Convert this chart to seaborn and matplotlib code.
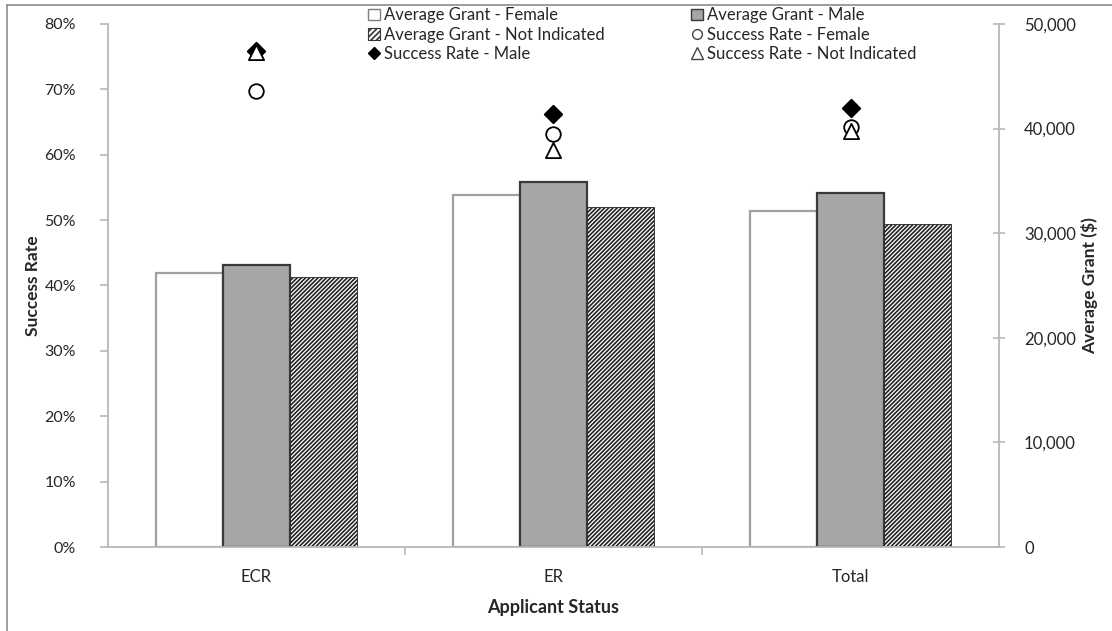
import numpy as np
import pandas as pd
import matplotlib
matplotlib.use("Agg")
import matplotlib.pyplot as plt
from matplotlib.ticker import PercentFormatter, FuncFormatter, FixedLocator
from matplotlib.patches import Patch
from matplotlib.lines import Line2D
import seaborn as sns

# Applicant status categories
categories = ["ECR", "ER", "Total"]

# Average grant ($) by gender
grant_female = [26200, 33650, 32100]
grant_male = [27000, 34900, 33850]
grant_not_indicated = [25800, 32500, 30900]

# Success rate by gender
rate_female = [0.698, 0.631, 0.642]
rate_male = [0.758, 0.662, 0.671]
rate_not_indicated = [0.757, 0.607, 0.636]

genders = ["Female", "Male", "Not Indicated"]

sns.set_theme(style="white")
plt.rcParams["font.family"] = ["Lato", "DejaVu Sans"]
plt.rcParams["hatch.linewidth"] = 1.2

fig = plt.figure(figsize=(11.12, 6.31), dpi=100)
ax = fig.add_axes([0.0971, 0.1331, 0.8013, 0.8289])
ax2 = ax.twinx()

grant_df = pd.DataFrame({
    "status": categories * 3,
    "gender": np.repeat(genders, len(categories)),
    "grant": grant_female + grant_male + grant_not_indicated,
})

sns.barplot(data=grant_df, x="status", y="grant", hue="gender",
            hue_order=genders, order=categories, width=0.675, gap=0,
            palette=["white", "#a6a6a6", "white"], legend=False,
            errorbar=None, ax=ax2)

bar_styles = [
    dict(facecolor="white", edgecolor="#a0a0a0", linewidth=1.6, hatch=None),
    dict(facecolor="#a6a6a6", edgecolor="#3a3a3a", linewidth=1.6, hatch=None),
    dict(facecolor="white", edgecolor="#222222", linewidth=0.6, hatch="////////"),
]
for container, style in zip(ax2.containers, bar_styles):
    for bar in container:
        bar.set_facecolor(style["facecolor"])
        bar.set_edgecolor(style["edgecolor"])
        bar.set_linewidth(style["linewidth"])
        if style["hatch"]:
            bar.set_hatch(style["hatch"])

# Success-rate markers at each category centre
pos = np.arange(len(categories))
marker_styles = [
    (rate_female, "o", "white", 110),
    (rate_male, "D", "black", 80),
    (rate_not_indicated, "^", "white", 120),
]
for values, mk, fc, size in marker_styles:
    sns.scatterplot(x=pos, y=values, marker=mk, s=size, color=fc,
                    edgecolor="black", linewidth=1.3, ax=ax, zorder=5,
                    legend=False)

ax.set_zorder(ax2.get_zorder() + 1)
ax.patch.set_visible(False)

ax.set_xlim(-0.5, len(categories) - 0.5)
ax.set_ylim(0, 0.8)
ax2.set_ylim(0, 50000)

ax.yaxis.set_major_locator(FixedLocator(np.arange(0, 0.81, 0.1)))
ax.yaxis.set_major_formatter(PercentFormatter(1.0, decimals=0))
ax2.yaxis.set_major_locator(FixedLocator(np.arange(0, 50001, 10000)))
ax2.yaxis.set_major_formatter(FuncFormatter(lambda v, p: f"{v:,.0f}"))

ax.set_xticks(pos)
ax.set_xticklabels(categories)
ax.set_xticks(np.arange(0.5, len(categories) - 0.5, 1.0), minor=True)

spine_color = "#b8b8b8"
for a in (ax, ax2):
    a.spines["top"].set_visible(False)
    for side in ("left", "right", "bottom"):
        a.spines[side].set_color(spine_color)
        a.spines[side].set_linewidth(1.3)
ax2.spines["left"].set_visible(False)
ax2.spines["bottom"].set_visible(False)
ax.spines["right"].set_visible(False)

text_color = "#262626"
ax.tick_params(axis="y", which="major", direction="out", length=6, width=1.2,
               color=spine_color, labelsize=11.5, labelcolor=text_color, pad=17,
               left=True)
ax2.tick_params(axis="y", which="major", direction="inout", length=8, width=1.2,
                color=spine_color, labelsize=12, labelcolor=text_color, pad=14,
                right=True)
ax.tick_params(axis="x", which="major", length=0, labelsize=12,
               labelcolor=text_color, pad=16)
ax.tick_params(axis="x", which="minor", direction="out", length=6, width=1.2,
               color=spine_color, bottom=True)

ax.set_xlabel("Applicant Status", fontsize=13, fontweight="bold",
              color=text_color, labelpad=10)
ax.set_ylabel("Success Rate", fontsize=12.5, fontweight="bold",
              color=text_color)
ax.yaxis.set_label_coords(-0.075, 0.5)
ax2.set_ylabel("Average Grant ($)", fontsize=12.5, fontweight="bold",
               color=text_color)
ax2.yaxis.set_label_coords(1.092, 0.5)
ax2.set_xlabel("")

handles = [
    Patch(facecolor="white", edgecolor="#7f7f7f", linewidth=1.0,
          label="Average Grant - Female"),
    Patch(facecolor="white", edgecolor="#333333", linewidth=0.8, hatch="//////",
          label="Average Grant - Not Indicated"),
    Line2D([], [], marker="D", linestyle="none", markersize=6,
           markerfacecolor="black", markeredgecolor="black",
           label="Success Rate - Male"),
    Patch(facecolor="#a6a6a6", edgecolor="#3a3a3a", linewidth=1.0,
          label="Average Grant - Male"),
    Line2D([], [], marker="o", linestyle="none", markersize=7,
           markerfacecolor="white", markeredgecolor="#444444",
           label="Success Rate - Female"),
    Line2D([], [], marker="^", linestyle="none", markersize=8,
           markerfacecolor="white", markeredgecolor="#444444",
           label="Success Rate - Not Indicated"),
]
fig.legend(handles=handles, ncol=2, loc="upper left",
           bbox_to_anchor=(360 / 1112, 1 + 1 / 631), frameon=False,
           fontsize=12, handlelength=0.7, handleheight=0.7,
           handletextpad=0.25, labelspacing=0.2, columnspacing=5.2,
           borderpad=0.0, labelcolor=text_color)

# Outer chart frame (left and top edges)
fig.add_artist(Line2D([7 / 1112, 7 / 1112], [0, 1 - 5 / 631],
                      transform=fig.transFigure, color="#8c8c8c", linewidth=1.2))
fig.add_artist(Line2D([7 / 1112, 1], [1 - 5 / 631, 1 - 5 / 631],
                      transform=fig.transFigure, color="#8c8c8c", linewidth=1.2))

fig.savefig("out.png", dpi=100)
